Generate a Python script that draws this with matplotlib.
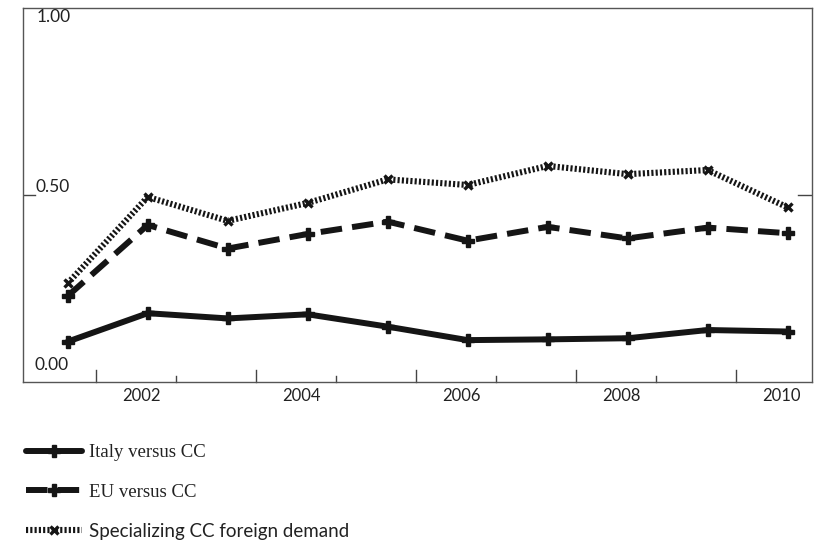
import numpy as np
import matplotlib
matplotlib.use("Agg")
import matplotlib.pyplot as plt

years = [2001, 2002, 2003, 2004, 2005, 2006, 2007, 2008, 2009, 2010]
italy = [0.108, 0.184, 0.170, 0.181, 0.148, 0.112, 0.114, 0.117, 0.139, 0.135]
eu = [0.230, 0.420, 0.357, 0.396, 0.429, 0.378, 0.415, 0.384, 0.413, 0.398]
spec = [0.264, 0.495, 0.431, 0.479, 0.542, 0.527, 0.578, 0.556, 0.567, 0.467]

labels = ["Italy versus CC", "EU versus CC", "Specializing CC foreign demand"]
xlabels = ["2002", "2004", "2006", "2008", "2010"]
ylabels = ["0.00", "0.50", "1.00"]

ink = "#151515"
fig = plt.figure(figsize=(8.19, 5.46), dpi=100)
ax = fig.add_axes([0.028, 0.3004, 0.963, 0.6846])

l1, = ax.plot(years, italy, color=ink, lw=4.3, marker="P", ms=8,
              solid_capstyle="round")
l2, = ax.plot(years, eu, color=ink, lw=4.3, marker="P", ms=8,
              dashes=(3.6, 1.7))
l3, = ax.plot(years, spec, color=ink, lw=4.4, marker="x", ms=6, mew=2.4,
              dashes=(0.35, 0.35))

ax.set_xlim(2000.44, 2010.3)
ax.set_ylim(0, 1)

for s in ax.spines.values():
    s.set_color("#555555")
    s.set_linewidth(1.0)

# x labels a bit left of the data year, tick marks drawn separately
ax.set_xticks([int(t) - 0.08 for t in xlabels])
ax.set_xticklabels(xlabels, fontsize=12, family="Lato", color="#222222")
ax.tick_params(axis="x", length=0, pad=4)
ax.set_yticks([])

xt = ax.get_xaxis_transform()
for k in range(9):
    h = 0.032 if k % 2 == 0 else 0.016
    ax.plot([2001.35 + k] * 2, [0, h], transform=xt, color="#444444",
            lw=1.0, clip_on=False)

ax.plot([0, 0.015], [0.5, 0.5], transform=ax.transAxes, color="#444444", lw=1.0)
ax.plot([0.983, 1], [0.5, 0.5], transform=ax.transAxes, color="#444444", lw=1.0)

ax.text(0.015, 0.045, ylabels[0], transform=ax.transAxes, fontsize=12.5,
        family="Lato", color="#222222", va="center", ha="left")
ax.text(0.016, 0.522, ylabels[1], transform=ax.transAxes, fontsize=12.5,
        family="Lato", color="#222222", va="center", ha="left")
ax.text(0.017, 0.976, ylabels[2], transform=ax.transAxes, fontsize=12.5,
        family="Lato", color="#222222", va="center", ha="left")

leg = fig.legend([l1, l2, l3], labels, loc="upper left",
                 bbox_to_anchor=(0.022, 0.2), frameon=False,
                 fontsize=13.5, handlelength=3.0, handletextpad=0.4,
                 labelspacing=1.18, borderaxespad=0)
fams = ["Liberation Serif", "Liberation Serif", "Lato"]
for t, f in zip(leg.get_texts(), fams):
    t.set_family(f)
    t.set_color("#222222")

fig.savefig("out.png", dpi=100)
